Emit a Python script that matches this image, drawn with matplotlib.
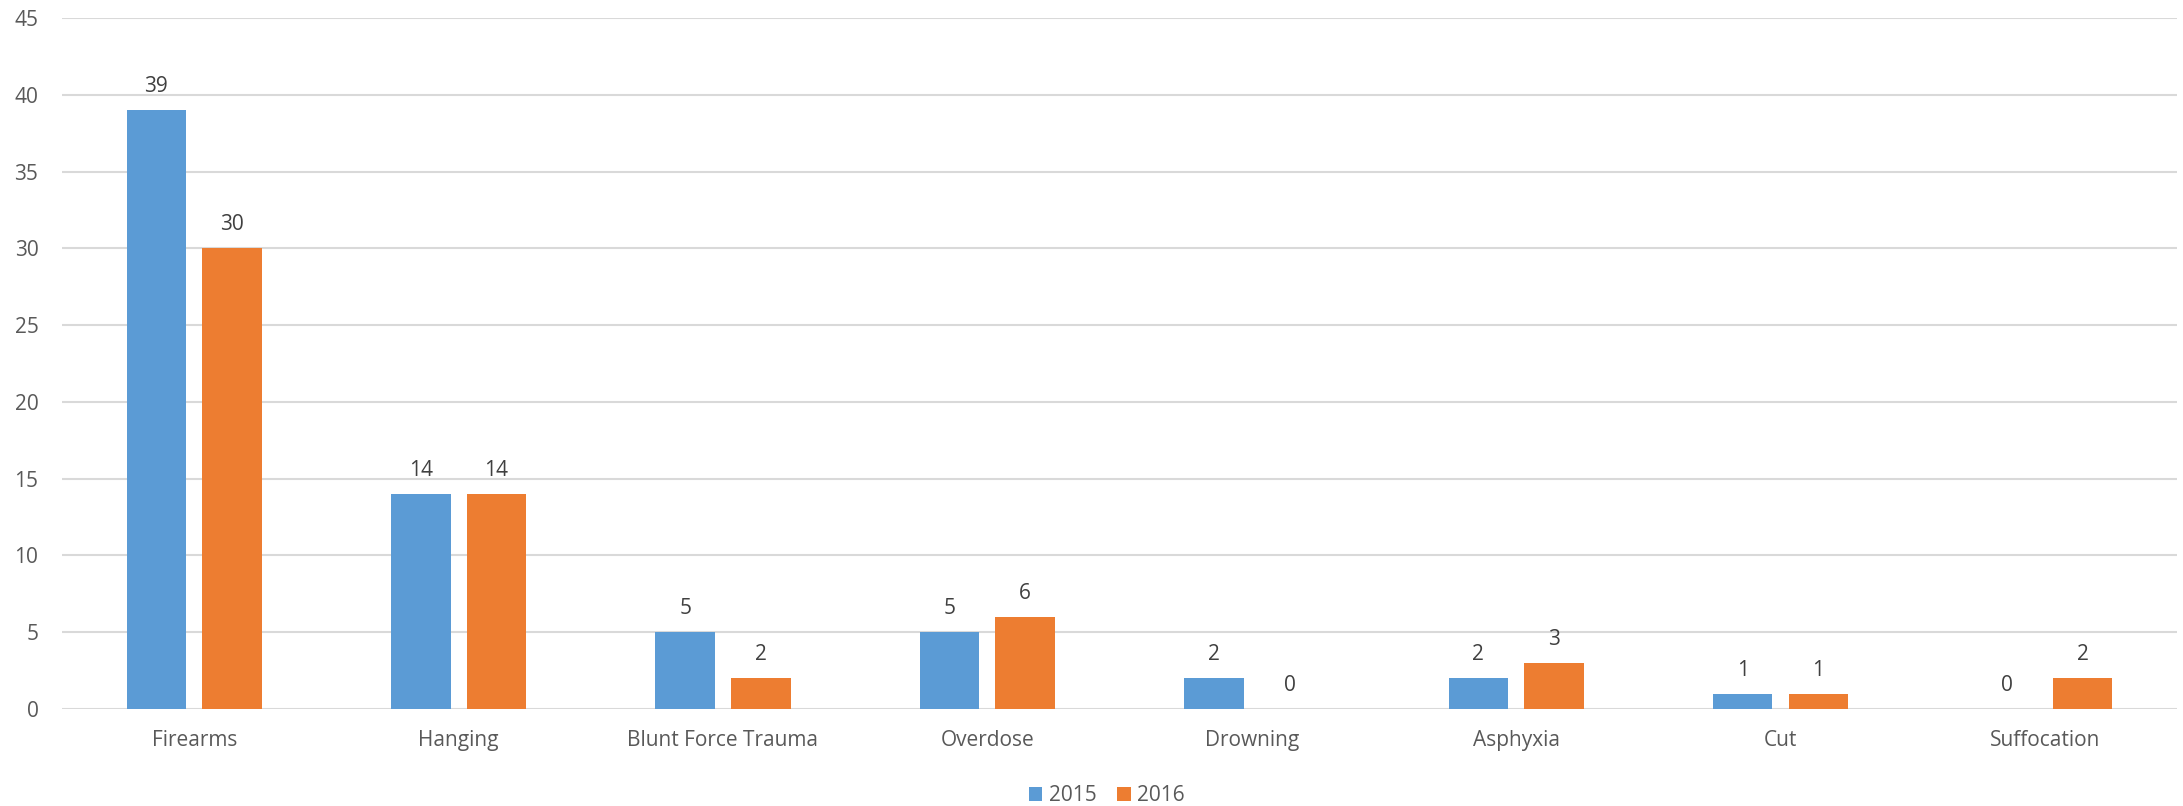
import matplotlib.pyplot as plt
import numpy as np

# Dados
categorias = ['Firearms', 'Hanging', 'Blunt Force Trauma', 'Overdose', 'Drowning',
              'Asphyxia', 'Cut', 'Suffocation']
valores_2015 = [39, 14, 5, 5, 2, 2, 1, 0]
valores_2016 = [30, 14, 2, 6, 0, 3, 1, 2]
anos = ['2015', '2016']

plt.rcParams['font.family'] = ['Open Sans', 'DejaVu Sans']

fig = plt.figure(figsize=(21.83, 8.06), dpi=100)
ax = fig.add_axes([0.0284, 0.1203, 0.9689, 0.8574])

x = np.arange(len(categorias))
largura = 0.225
desloc = 0.143
b1 = ax.bar(x - desloc, valores_2015, largura, color='#5b9bd5', label=anos[0], zorder=3)
b2 = ax.bar(x + desloc, valores_2016, largura, color='#ed7d31', label=anos[1], zorder=3)

# Rótulos de dados acima das barras
for barras in (b1, b2):
    for b in barras:
        ax.annotate(str(int(b.get_height())),
                    (b.get_x() + b.get_width() / 2, b.get_height()),
                    xytext=(0, 13), textcoords='offset points',
                    ha='center', va='baseline', fontsize=15, color='#404040')

ax.set_xlim(-0.5, len(categorias) - 0.5)
ax.set_ylim(0, 45)
ax.set_yticks(np.arange(0, 46, 5))
ax.set_xticks(x)
ax.set_xticklabels(categorias)
ax.tick_params(axis='both', length=0, labelsize=15, labelcolor='#595959')
ax.tick_params(axis='x', pad=15)
ax.tick_params(axis='y', pad=17)
ax.grid(axis='y', color='#d9d9d9', linewidth=1.5, zorder=0)
for s in ax.spines.values():
    s.set_visible(False)

fig.legend(loc='center', bbox_to_anchor=(0.507, 0.013), ncol=2, frameon=False,
           fontsize=15, labelcolor='#595959', handlelength=0.65, handleheight=0.65,
           handletextpad=0.3, columnspacing=1.0)

plt.savefig('out.png', dpi=100)
